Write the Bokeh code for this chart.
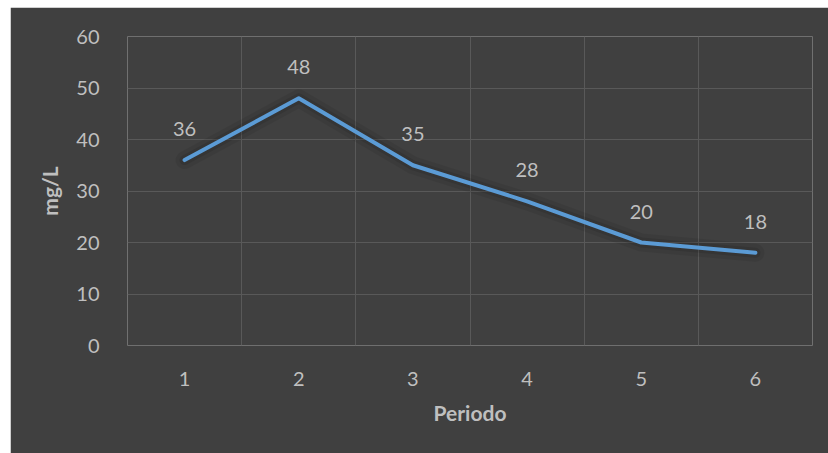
from bokeh.plotting import figure
from bokeh.models import ColumnDataSource, LabelSet, Range1d, FixedTicker
from bokeh.core.properties import value
from bokeh.embed import file_html
from bokeh.resources import INLINE

# Data
periodos = [1, 2, 3, 4, 5, 6]
valores = [36, 48, 35, 28, 20, 18]
y_ticks = [0, 10, 20, 30, 40, 50, 60]

BG = "#404040"
TXT = "#bfbfbf"
GRID = "#595959"
LINE = "#5b9bd5"
FONT = "Lato"

src = ColumnDataSource(dict(x=periodos, y=valores, lbl=[str(v) for v in valores]))

p = figure(width=818, height=446, output_backend="svg", toolbar_location=None,
           x_range=Range1d(0.5, 6.5), y_range=Range1d(0, 60),
           background_fill_color=BG, border_fill_color=BG,
           min_border_left=117, min_border_right=16, min_border_top=29, min_border_bottom=108)
p.margin = (7, 0, 0, 10)
p.outline_line_color = None

# grids
p.xgrid.ticker = FixedTicker(ticks=[i + 0.5 for i in range(0, 7)])
p.ygrid.ticker = FixedTicker(ticks=y_ticks[1:])
p.xgrid.grid_line_color = GRID
p.ygrid.grid_line_color = GRID
p.xgrid.grid_line_width = 1
p.ygrid.grid_line_width = 1

# axes
p.xaxis.ticker = FixedTicker(ticks=periodos)
p.yaxis.ticker = FixedTicker(ticks=y_ticks)
for ax in (p.xaxis[0], p.yaxis[0]):
    ax.axis_line_color = None
    ax.major_tick_line_color = None
    ax.minor_tick_line_color = None
    ax.major_label_text_color = TXT
    ax.major_label_text_font = FONT
    ax.major_label_text_font_size = "20px"
    ax.axis_label_text_color = TXT
    ax.axis_label_text_font = FONT
    ax.axis_label_text_font_size = "21px"
    ax.axis_label_text_font_style = "bold"
p.xaxis.axis_label = "Periodo"
p.yaxis.axis_label = "mg/L"
p.xaxis.major_label_standoff = 20
p.xaxis.axis_label_standoff = 11
p.yaxis.major_label_standoff = 22
p.yaxis.axis_label_standoff = 11

# soft shadow then line
p.line("x", "y", source=src, line_color="black", line_alpha=0.07, line_width=18, line_join="round", line_cap="round")
p.line("x", "y", source=src, line_color="black", line_alpha=0.1, line_width=10, line_join="round", line_cap="round")
p.line("x", "y", source=src, line_color=LINE, line_width=4, line_join="round", line_cap="round")

labels = LabelSet(x="x", y="y", text="lbl", source=src, y_offset=31,
                  text_align="center", text_baseline="middle",
                  text_color=TXT, text_font=value(FONT), text_font_size=value("20px"))
p.add_layout(labels)

open("out.html", "w").write(file_html(p, INLINE))
